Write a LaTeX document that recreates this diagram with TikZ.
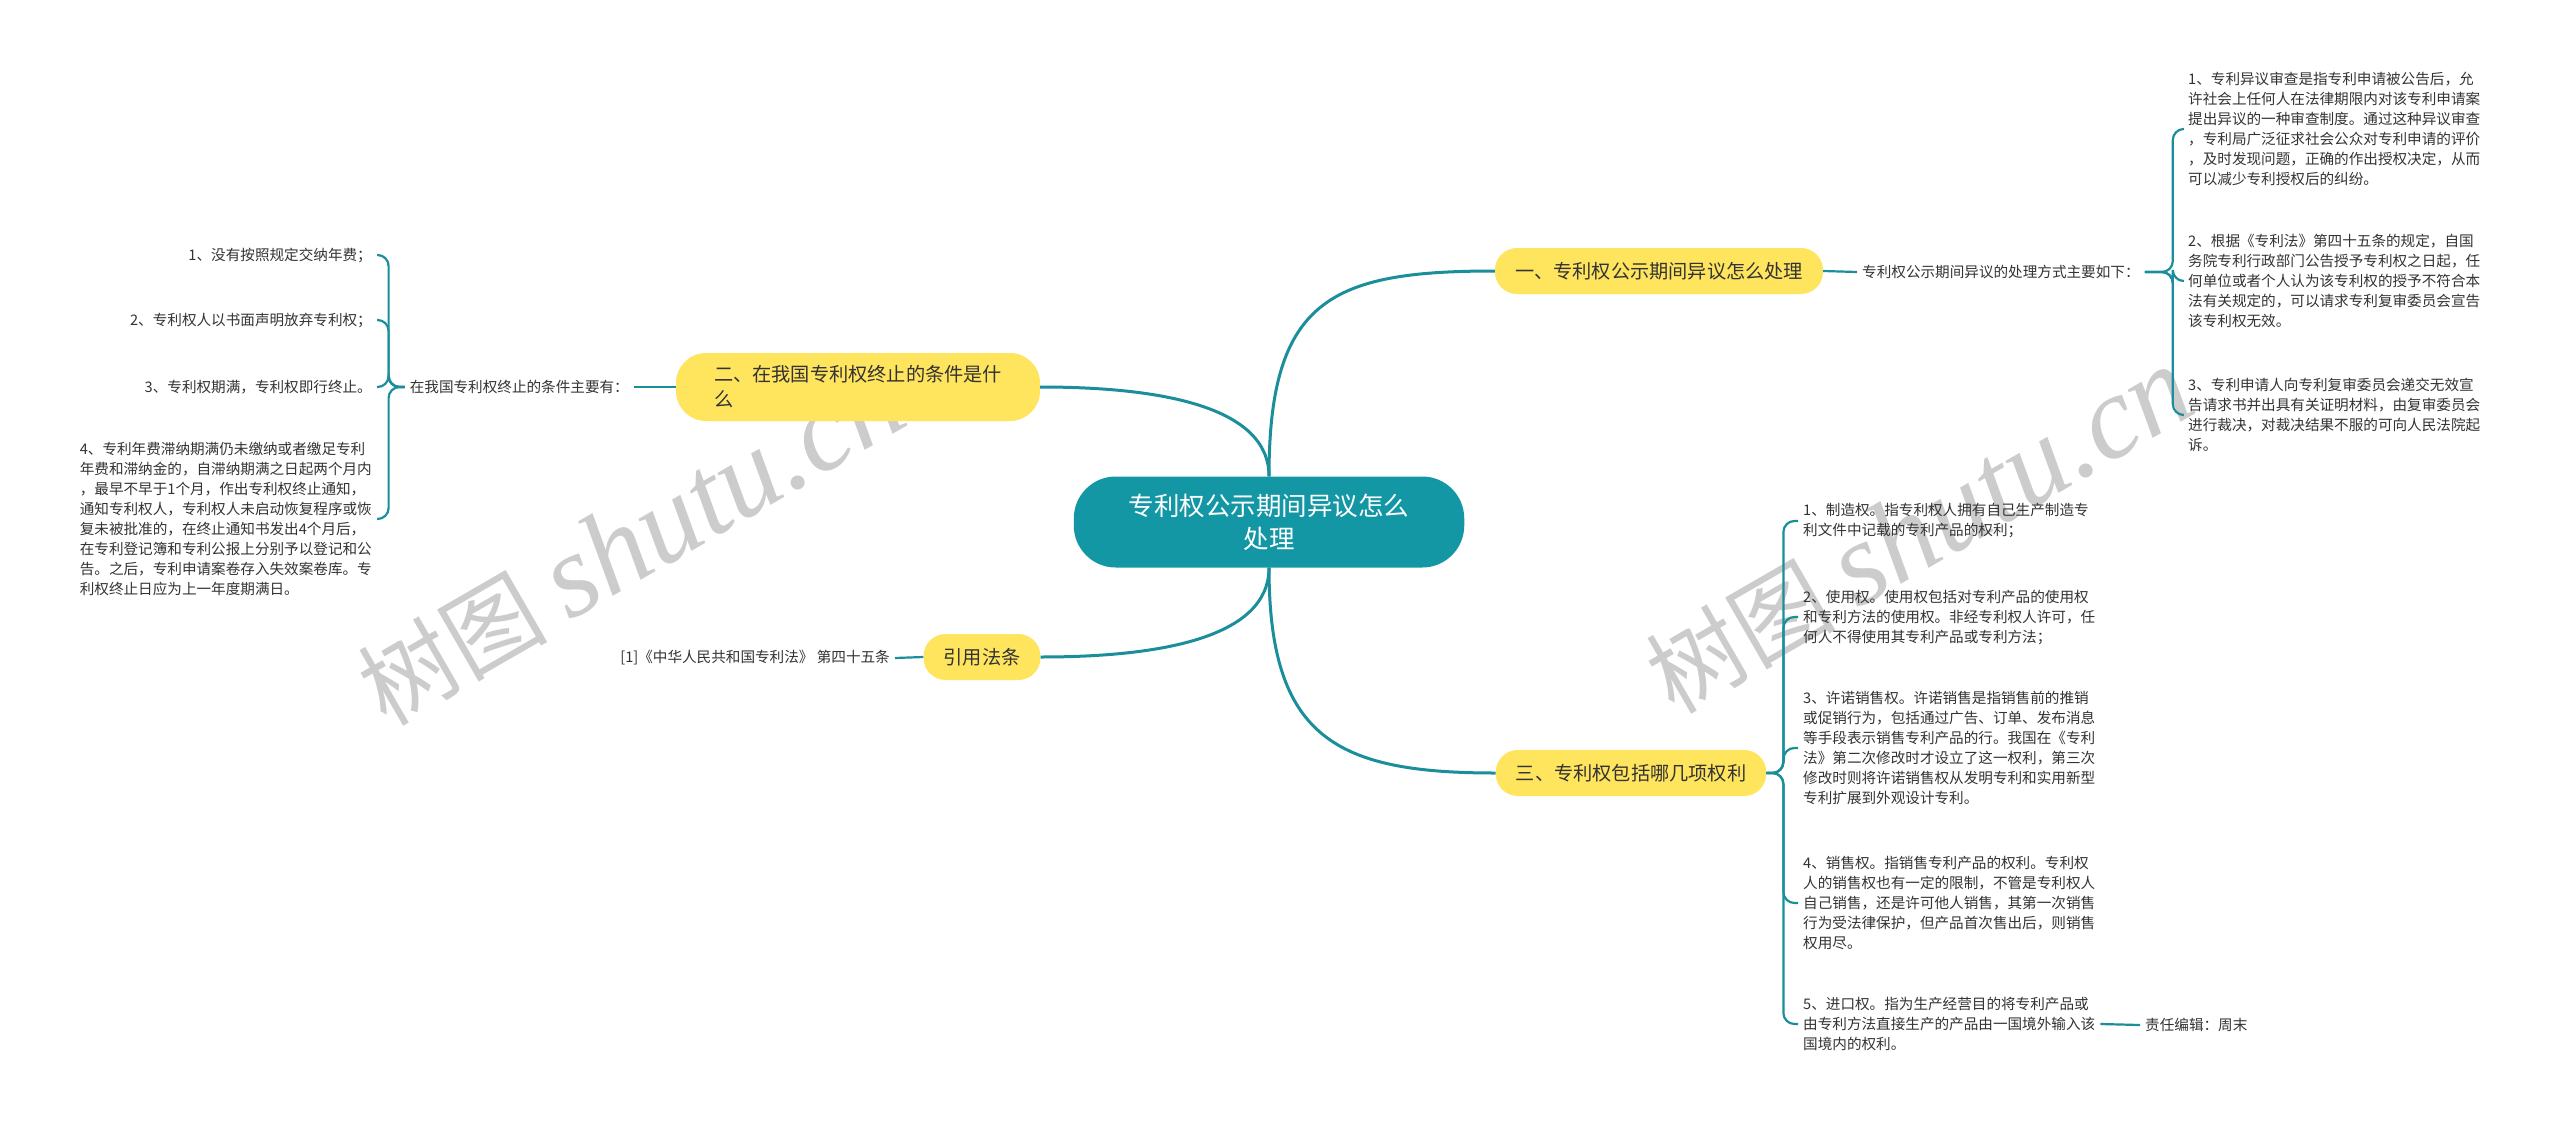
\documentclass[tikz,border=0pt]{standalone}
\usepackage{fontspec}
\setmainfont{Noto Sans CJK SC}
\newfontfamily\wmlatin{Liberation Serif}
\usepackage{tikz}
\usetikzlibrary{positioning,calc}

\definecolor{mapteal}{HTML}{1497A5}
\definecolor{mapline}{HTML}{1A8E9B}
\definecolor{mapyellow}{HTML}{FFE45E}
\definecolor{maptext}{HTML}{333333}

\begin{document}
\begin{tikzpicture}[
    x=1pt, y=-1pt,
    root/.style={fill=mapteal, text=white, rounded corners=42pt, align=center, inner xsep=55pt, minimum height=91pt, font=\fontsize{25.5}{33}\selectfont},
    topic/.style={fill=mapyellow, text=maptext, rounded corners=22pt, align=left, inner xsep=20pt, minimum height=46pt, font=\fontsize{19.2}{25}\selectfont},
    leaf/.style={text=maptext, align=left, inner xsep=5pt, inner ysep=2pt, font=\fontsize{14.6}{20}\selectfont},
    link/.style={draw=mapline, line width=3pt},
    twig/.style={draw=mapline, line width=2.2pt, rounded corners=11pt},
    watermark/.style={text=black!20, inner sep=0pt, font=\fontsize{95}{100}\selectfont}
]
\useasboundingbox (0,0) rectangle (2560,1127);
\fill[white] (0,0) rectangle (2560,1127);

% watermarks
\node[watermark, rotate=30] (wm1) at (631,543) {树图 {\wmlatin\itshape\fontsize{118}{120}\selectfont shutu.cn}};
\node[watermark, rotate=30] (wm2) at (1919,531) {树图 {\wmlatin\itshape\fontsize{118}{120}\selectfont shutu.cn}};

% centre and main topics
\node[root] (c) at (1269,522) {专利权公示期间异议怎么\\处理};
\node[topic] (b1) at (1659,271) {一、专利权公示期间异议怎么处理};
\node[topic, inner xsep=38pt, rounded corners=30pt, minimum height=68pt] (b2) at (858,387) {二、在我国专利权终止的条件是什\\么};
\node[topic] (b3) at (982,657) {引用法条};
\node[topic] (b4) at (1631,773) {三、专利权包括哪几项权利};

\draw[link] (c.north) .. controls +(0,-177) and +(-164,0) .. (b1.west);
\draw[link] (c.north) .. controls +(0,-70) and +(120,0) .. (b2.east);
\draw[link] (c.south) .. controls +(0,70) and +(120,0) .. (b3.east);
\draw[link] (c.south) .. controls +(0,170) and +(-160,0) .. (b4.west);

% topic one
\node[leaf, anchor=west] (p1) at (1857,272) {专利权公示期间异议的处理方式主要如下：};
\node[leaf, anchor=west] (r1) at (2183,129) {1、专利异议审查是指专利申请被公告后，允\\许社会上任何人在法律期限内对该专利申请案\\提出异议的一种审查制度。通过这种异议审查\\，专利局广泛征求社会公众对专利申请的评价\\，及时发现问题，正确的作出授权决定，从而\\可以减少专利授权后的纠纷。};
\node[leaf, anchor=west] (r2) at (2183,281) {2、根据《专利法》第四十五条的规定，自国\\务院专利行政部门公告授予专利权之日起，任\\何单位或者个人认为该专利权的授予不符合本\\法有关规定的，可以请求专利复审委员会宣告\\该专利权无效。};
\node[leaf, anchor=west] (r3) at (2183,415) {3、专利申请人向专利复审委员会递交无效宣\\告请求书并出具有关证明材料，由复审委员会\\进行裁决，对裁决结果不服的可向人民法院起\\诉。};
\draw[twig] (b1.east) -- (p1.west);
\foreach \n in {r1,r2,r3}
  \draw[twig] (p1.east) -- ++(28,0) |- (\n.west);

% topic two
\node[leaf, anchor=east] (p2) at (634,387) {在我国专利权终止的条件主要有：};
\node[leaf, anchor=east] (l1) at (377,255) {1、没有按照规定交纳年费；};
\node[leaf, anchor=east] (l2) at (377,320) {2、专利权人以书面声明放弃专利权；};
\node[leaf, anchor=east] (l3) at (377,387) {3、专利权期满，专利权即行终止。};
\node[leaf, anchor=east] (l4) at (377,519) {4、专利年费滞纳期满仍未缴纳或者缴足专利\\年费和滞纳金的，自滞纳期满之日起两个月内\\，最早不早于1个月，作出专利权终止通知，\\通知专利权人，专利权人未启动恢复程序或恢\\复未被批准的，在终止通知书发出4个月后，\\在专利登记簿和专利公报上分别予以登记和公\\告。之后，专利申请案卷存入失效案卷库。专\\利权终止日应为上一年度期满日。};
\draw[twig] (b2.west) -- (p2.east);
\foreach \n in {l1,l2,l3,l4}
  \draw[twig] (p2.west) -- ++(-16,0) |- (\n.east);

% cited law
\node[leaf, anchor=east] (cite) at (895,658) {[1]《中华人民共和国专利法》 第四十五条};
\draw[twig] (b3.west) -- (cite.east);

% topic three
\node[leaf, anchor=west] (s1) at (1798,521) {1、制造权。指专利权人拥有自己生产制造专\\利文件中记载的专利产品的权利；};
\node[leaf, anchor=west] (s2) at (1798,617) {2、使用权。使用权包括对专利产品的使用权\\和专利方法的使用权。非经专利权人许可，任\\何人不得使用其专利产品或专利方法；};
\node[leaf, anchor=west] (s3) at (1798,748) {3、许诺销售权。许诺销售是指销售前的推销\\或促销行为，包括通过广告、订单、发布消息\\等手段表示销售专利产品的行。我国在《专利\\法》第二次修改时才设立了这一权利，第三次\\修改时则将许诺销售权从发明专利和实用新型\\专利扩展到外观设计专利。};
\node[leaf, anchor=west] (s4) at (1798,903) {4、销售权。指销售专利产品的权利。专利权\\人的销售权也有一定的限制，不管是专利权人\\自己销售，还是许可他人销售，其第一次销售\\行为受法律保护，但产品首次售出后，则销售\\权用尽。};
\node[leaf, anchor=west] (s5) at (1798,1024) {5、进口权。指为生产经营目的将专利产品或\\由专利方法直接生产的产品由一国境外输入该\\国境内的权利。};
\node[leaf, anchor=west] (e1) at (2140,1025) {责任编辑：周末};
\foreach \n in {s1,s2,s3,s4,s5}
  \draw[twig] (b4.east) -- ++(17,0) |- (\n.west);
\draw[twig] (s5.east) -- (e1.west);

\end{tikzpicture}
\end{document}
